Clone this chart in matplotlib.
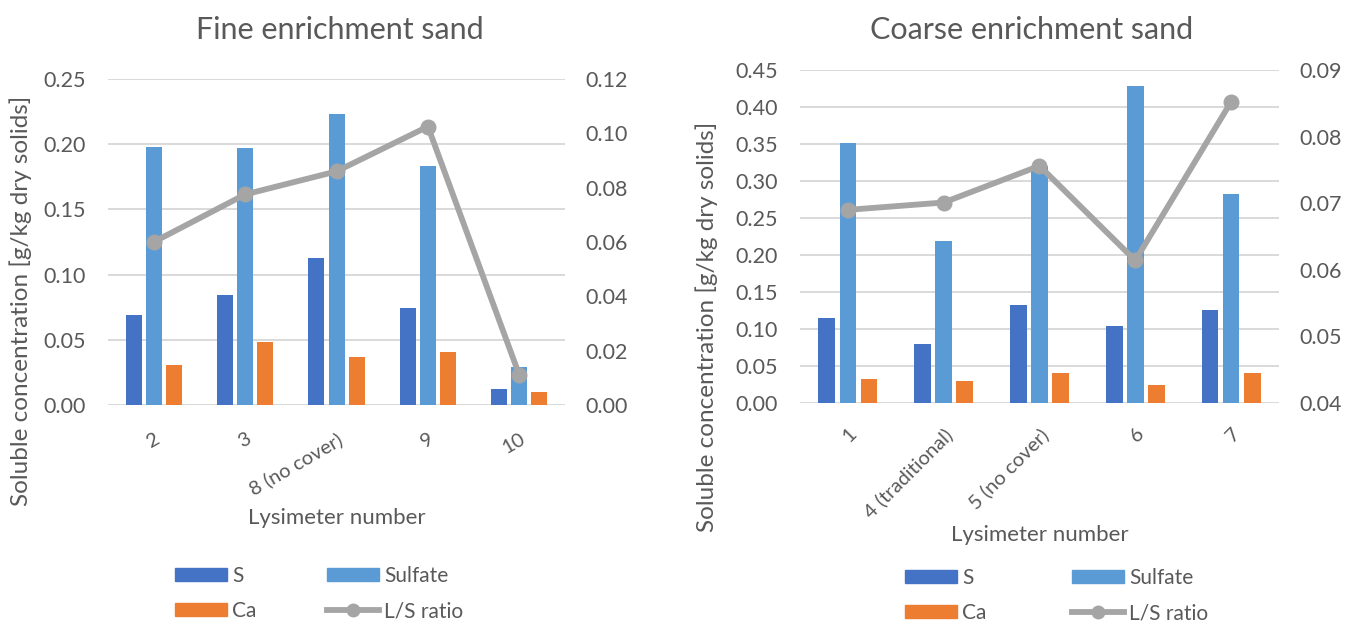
import numpy as np
import matplotlib.pyplot as plt
from matplotlib.lines import Line2D
from matplotlib.patches import Patch

plt.rcParams['font.family'] = ['Lato', 'DejaVu Sans']

# data
fine_labels = ['2', '3', '8 (no cover)', '9', '10']
fine_s = [0.069, 0.084, 0.113, 0.074, 0.012]
fine_sulfate = [0.198, 0.197, 0.223, 0.183, 0.029]
fine_ca = [0.031, 0.048, 0.037, 0.041, 0.010]
fine_ls = [0.060, 0.0775, 0.086, 0.1025, 0.011]

coarse_labels = ['1', '4 (traditional)', '5 (no cover)', '6', '7']
coarse_s = [0.115, 0.080, 0.133, 0.104, 0.125]
coarse_sulfate = [0.351, 0.219, 0.320, 0.428, 0.283]
coarse_ca = [0.032, 0.030, 0.041, 0.024, 0.041]
coarse_ls = [0.069, 0.0701, 0.0756, 0.0614, 0.0852]

C_S = '#4472C4'
C_SUL = '#5B9BD5'
C_CA = '#ED7D31'
C_LS = '#A5A5A5'
TXT = '#595959'
GRID = '#D9D9D9'
FS = 15.5


def panel(fig, rect, title, title_xy, labels, s, sul, ca, ls, ylim, yticks, y2lim, y2ticks,
          rot, xpad, xlab_y, ylab_xy, leg_anchor, colsp):
    ax = fig.add_axes(rect)
    x = np.arange(len(labels))
    w = 0.175
    d = 0.22
    ax.bar(x - d, s, w, color=C_S, zorder=2)
    ax.bar(x, sul, w, color=C_SUL, zorder=2)
    ax.bar(x + d, ca, w, color=C_CA, zorder=2)
    ax.set_xlim(-0.5, len(labels) - 0.5)
    ax.set_ylim(*ylim)
    ax.set_yticks(yticks)
    ax.set_yticklabels([f'{v:.2f}' for v in yticks])
    ax.yaxis.grid(True, color=GRID, lw=1.4, zorder=0)
    ax.set_axisbelow(True)
    for sp in ax.spines.values():
        sp.set_visible(False)
    ax.tick_params(axis='y', length=0, labelsize=FS, colors=TXT, pad=16)
    ax.tick_params(axis='x', length=0, labelsize=14.5, colors=TXT, pad=xpad)
    ax.set_xticks(x)
    ax.set_xticklabels(labels, rotation=rot, ha='right', rotation_mode='anchor')
    ax.text(ylab_xy[0], ylab_xy[1], 'Soluble concentration [g/kg dry solids]',
            transform=ax.transAxes, rotation=90, ha='center', va='center',
            fontsize=17.5, color=TXT)
    fig.text(title_xy[0], title_xy[1], title, ha='center', va='center',
             fontsize=22, color=TXT)
    ax.text(0.5, xlab_y, 'Lysimeter number', transform=ax.transAxes, ha='center',
            va='center', fontsize=16, color=TXT)

    ax2 = ax.twinx()
    ax2.plot(x, ls, color=C_LS, lw=4.2, marker='o', ms=10.5, zorder=3)
    ax2.set_ylim(*y2lim)
    ax2.set_yticks(y2ticks)
    ax2.set_yticklabels([f'{v:.2f}' for v in y2ticks])
    for sp in ax2.spines.values():
        sp.set_visible(False)
    ax2.tick_params(length=0, labelsize=FS, colors=TXT, pad=15)

    handles = [Patch(color=C_S, label='S'), Patch(color=C_CA, label='Ca'),
               Patch(color=C_SUL, label='Sulfate'),
               Line2D([], [], color=C_LS, lw=4.2, marker='o', ms=9, label='L/S ratio')]
    leg = fig.legend(handles=handles, ncol=2, loc='center', bbox_to_anchor=leg_anchor,
                     frameon=False, fontsize=15, handlelength=2.5, handleheight=0.6,
                     columnspacing=colsp, labelspacing=0.72, handletextpad=0.25,
                     borderpad=0, borderaxespad=0)
    for t in leg.get_texts():
        t.set_color(TXT)
    return ax, ax2


fig = plt.figure(figsize=(13.45, 6.22), dpi=100)

panel(fig, [0.0803, 0.3489, 0.3398, 0.5241], 'Fine enrichment sand', (0.2528, 0.952),
      fine_labels, fine_s, fine_sulfate, fine_ca, fine_ls,
      (0, 0.25), np.arange(0, 0.2501, 0.05), (0, 0.12), np.arange(0, 0.1201, 0.02),
      30, 18, -0.347, (-0.19, 0.32), (0.2372, 0.0458), 3.4)

panel(fig, [0.5948, 0.3521, 0.3561, 0.5354], 'Coarse enrichment sand', (0.767, 0.952),
      coarse_labels, coarse_s, coarse_sulfate, coarse_ca, coarse_ls,
      (0, 0.45), np.arange(0, 0.4501, 0.05), (0.04, 0.09), np.arange(0.04, 0.0901, 0.01),
      45, 16, -0.396, (-0.194, 0.23), (0.7855, 0.0426), 4.1)

fig.savefig('out.png', dpi=100)
